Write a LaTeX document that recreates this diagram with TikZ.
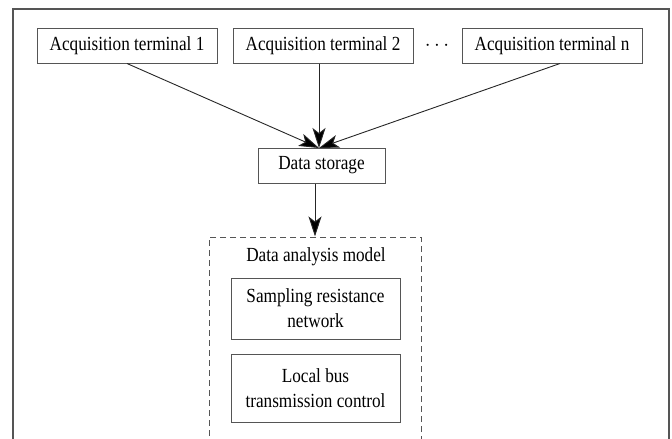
\documentclass[tikz,border=0pt]{standalone}
\usepackage{fontspec}
\setmainfont{Liberation Serif}[FakeStretch=0.86]
\usetikzlibrary{arrows.meta}
\definecolor{edgegray}{HTML}{555555}
\begin{document}
\begin{tikzpicture}[x=1pt,y=-1pt,
  every node/.style={font=\fontsize{20}{25}\selectfont, text=black},
  box/.style={draw=edgegray, line width=1pt, inner sep=0pt, align=center},
  dashbox/.style={draw=edgegray, line width=1pt, dashed, dash pattern=on 6pt off 4pt, inner sep=0pt},
  conn/.style={draw=black!85, line width=0.9pt, -{Stealth[length=20pt,width=13pt,inset=5pt,fill=black]}}
]
\useasboundingbox (0,0) rectangle (672,439);
\draw[edgegray, line width=1.2pt] (13,9) rectangle (669,520);

\node[box, minimum width=180pt, minimum height=35pt] (t1) at (127,45.5) {Acquisition terminal 1};
\node[box, minimum width=180pt, minimum height=35pt] (t2) at (323,45.5) {Acquisition terminal 2};
\node (dots) at (437,46) {$\cdots$};
\node[box, minimum width=180pt, minimum height=35pt] (tn) at (552,45.5) {Acquisition terminal n};

\node[box, minimum width=127pt, minimum height=35pt] (ds) at (321.5,165.5) {Data storage};
\coordinate (meet) at (319,148);

\node[dashbox, minimum width=212pt, minimum height=263pt] (dab) at (315,368.5) {};
\node (title) at (316,257) {Data analysis model};
\node[box, minimum width=169pt, minimum height=61pt] (b1) at (315.5,308.5) {Sampling resistance\\network};
\node[box, minimum width=169pt, minimum height=68pt] (b2) at (315.5,388) {Local bus\\transmission control};

\draw[conn] (t1.south) -- (meet);
\draw[conn] (t2.south -| meet) -- (meet);
\draw[conn] ([xshift=8pt]tn.south) -- (meet);
\draw[conn] (ds.south -| dab.north) -- (dab.north);
\end{tikzpicture}
\end{document}
